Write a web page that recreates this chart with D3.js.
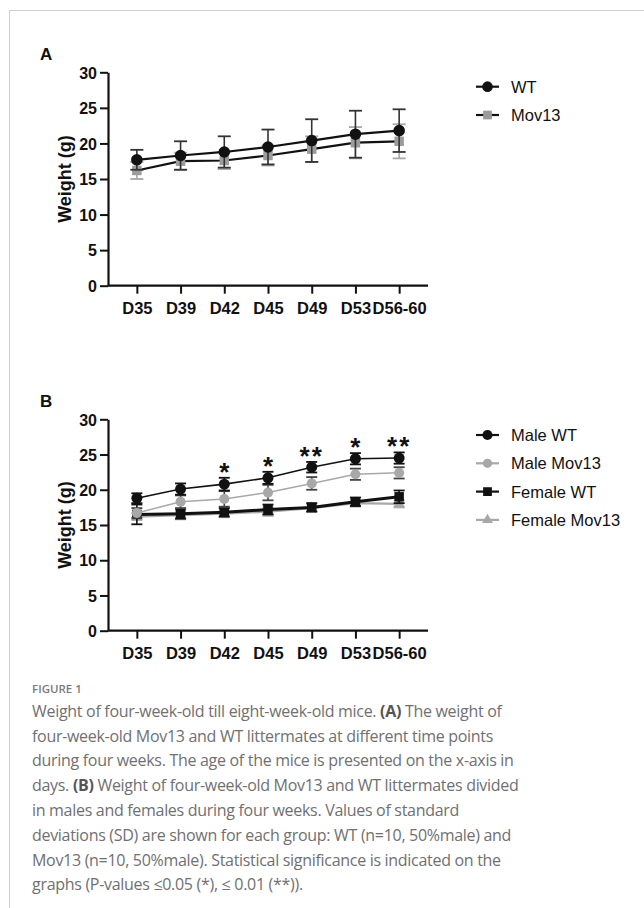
<!DOCTYPE html>
<html><head><meta charset="utf-8">
<script src="https://cdn.jsdelivr.net/npm/d3@7"></script>
<style>body{margin:0;background:#fff}svg{display:block}</style>
</head><body>
<script>
const days = ["D35","D39","D42","D45","D49","D53","D56-60"];
const yTicks = [0,5,10,15,20,25,30];
// Panel A
const wtMean = [17.7,18.3,18.8,19.5,20.4,21.3,21.8];
const wtSD   = [1.4,2.0,2.2,2.45,3.0,3.3,3.0];
const movMean = [16.2,17.5,17.6,18.3,19.2,20.1,20.3];
const movSD   = [1.2,1.2,1.2,1.4,1.8,2.2,2.4];
// Panel B
const maleWT = [18.8,20.1,20.8,21.7,23.2,24.4,24.5];
const maleWTsd = [0.7,0.8,0.9,0.85,0.75,0.8,0.8];
const maleMov = [16.7,18.3,18.7,19.6,20.9,22.2,22.4];
const maleMovSd = [0.7,0.9,1.1,1.1,0.9,0.8,0.8];
const femWT = [16.5,16.6,16.8,17.2,17.5,18.3,19.0];
const femWTsd = [1.4,0.7,0.6,0.7,0.6,0.6,0.9];
const femMov = [16.2,16.4,16.6,16.9,17.4,18.1,18.0];
const femMovSd = [0.5,0.6,0.5,0.6,0.5,0.5,0.5];
const signif = ["","","*","*","**","*","**"];
const captionLines = [
 [["Weight of four-week-old till eight-week-old mice. ",0],["(A)",1],[" The weight of",0]],
 [["four-week-old Mov13 and WT littermates at different time points",0]],
 [["during four weeks. The age of the mice is presented on the x-axis in",0]],
 [["days. ",0],["(B)",1],[" Weight of four-week-old Mov13 and WT littermates divided",0]],
 [["in males and females during four weeks. Values of standard",0]],
 [["deviations (SD) are shown for each group: WT (n=10, 50%male) and",0]],
 [["Mov13 (n=10, 50%male). Statistical significance is indicated on the",0]],
 [["graphs (P-values ≤0.05 (*), ≤ 0.01 (**)).",0]]
];

const W=644,H=908;
const svg=d3.select("body").append("svg").attr("width",W).attr("height",H);
svg.append("rect").attr("x",9.5).attr("y",10.5).attr("width",W).attr("height",H).attr("fill","none").attr("stroke","#d0d0d0").attr("stroke-width",1);

const FONT="'Liberation Sans', Arial, sans-serif";
const BLACK="#111", GREY="#a8a8a8";

function panel(label, top, bottom, series, legendItems, legendY, stars){
  const x=d3.scalePoint().domain(days).range([108,428]).padding(0.66);
  const y=d3.scaleLinear().domain([0,30]).range([bottom,top]);
  const g=svg.append("g");
  g.append("text").attr("x",40).attr("y",top-12).text(label)
   .attr("font-family",FONT).attr("font-weight","bold").attr("font-size",17).attr("fill",BLACK);
  const ya=g.append("g").attr("transform","translate(108,0)")
    .call(d3.axisLeft(y).tickValues(yTicks).tickSize(8).tickPadding(3).tickSizeOuter(0));
  const xa=g.append("g").attr("transform",`translate(0,${bottom})`)
    .call(d3.axisBottom(x).tickSize(8).tickPadding(9).tickSizeOuter(0));
  [ya,xa].forEach(a=>{
    a.select(".domain").attr("stroke",BLACK).attr("stroke-width",2.2);
    a.selectAll(".tick line").attr("stroke",BLACK).attr("stroke-width",2);
    a.selectAll("text").attr("font-family",FONT).attr("font-weight","bold").attr("font-size",16).attr("fill",BLACK);
  });
  ya.selectAll("text").attr("dy","0.36em");
  xa.select(".domain").attr("d","M108,0H428");
  xa.selectAll("text").attr("font-size",16.5);
  g.append("text").attr("transform",`translate(71,${(top+bottom)/2}) rotate(-90)`)
   .attr("text-anchor","middle").text("Weight (g)")
   .attr("font-family",FONT).attr("font-weight","bold").attr("font-size",18).attr("fill",BLACK);

  series.forEach(s=>{
    const pts=days.map((d,i)=>({d,m:s.mean[i],sd:s.sd[i]}));
    const eg=g.append("g");
    pts.forEach(p=>{
      const cx=x(p.d);
      eg.append("line").attr("x1",cx).attr("x2",cx).attr("y1",y(p.m-p.sd)).attr("y2",y(p.m+p.sd))
        .attr("stroke",s.ecolor).attr("stroke-width",1.6);
      [p.m-p.sd,p.m+p.sd].forEach(v=>eg.append("line").attr("x1",cx-s.cap).attr("x2",cx+s.cap)
        .attr("y1",y(v)).attr("y2",y(v)).attr("stroke",s.ecolor).attr("stroke-width",1.8));
    });
    g.append("path").datum(pts).attr("fill","none").attr("stroke",s.lcolor).attr("stroke-width",s.lw)
      .attr("d",d3.line().x(p=>x(p.d)).y(p=>y(p.m)));
    g.selectAll(null).data(pts).enter().append("path")
      .attr("transform",p=>`translate(${x(p.d)},${y(p.m)})`)
      .attr("d",d3.symbol().type(s.sym).size(s.size)).attr("fill",s.fill);
  });

  if(stars){
    const mw=series[series.length-1];
    g.selectAll(null).data(days.map((d,i)=>({d,s:stars[i],v:mw.mean[i]+mw.sd[i]}))).enter()
      .append("text").attr("x",p=>x(p.d)).attr("y",p=>y(p.v)+3)
      .attr("text-anchor","middle").attr("letter-spacing",p=>p.s.length>1?"2px":"0")
      .text(p=>p.s).attr("font-family",FONT).attr("font-weight","bold").attr("font-size",26).attr("fill",BLACK);
  }

  legendItems.forEach((s,i)=>{
    const ly=legendY+i*28.3;
    const lg=g.append("g");
    lg.append("line").attr("x1",476).attr("x2",499).attr("y1",ly).attr("y2",ly).attr("stroke",s.legLine).attr("stroke-width",2.2);
    lg.append("path").attr("transform",`translate(487.5,${ly})`).attr("d",d3.symbol().type(s.sym).size(s.size*0.85)).attr("fill",s.fill);
    lg.append("text").attr("x",511).attr("y",ly).attr("dy","0.36em").text(s.name)
      .attr("font-family",FONT).attr("font-size",16.5).attr("fill",BLACK);
  });
}

const sA=[
 {name:"Mov13",mean:movMean,sd:movSD,sym:d3.symbolSquare,size:90,fill:"#9c9c9c",lcolor:BLACK,lw:2.2,ecolor:GREY,cap:6.5,legLine:BLACK},
 {name:"WT",mean:wtMean,sd:wtSD,sym:d3.symbolCircle,size:105,fill:BLACK,lcolor:BLACK,lw:2.2,ecolor:"#333",cap:6.5,legLine:BLACK}
];
panel("A",72.3,285.7,sA,[sA[1],sA[0]],86.7,null);

const sB=[
 {name:"Female Mov13",mean:femMov,sd:femMovSd,sym:d3.symbolTriangle,size:60,fill:GREY,lcolor:GREY,lw:2.2,ecolor:GREY,cap:5.5,legLine:GREY},
 {name:"Female WT",mean:femWT,sd:femWTsd,sym:d3.symbolSquare,size:90,fill:BLACK,lcolor:BLACK,lw:3,ecolor:BLACK,cap:5.5,legLine:BLACK},
 {name:"Male Mov13",mean:maleMov,sd:maleMovSd,sym:d3.symbolCircle,size:80,fill:GREY,lcolor:GREY,lw:1.5,ecolor:"#444",cap:5.5,legLine:GREY},
 {name:"Male WT",mean:maleWT,sd:maleWTsd,sym:d3.symbolCircle,size:95,fill:BLACK,lcolor:BLACK,lw:1.6,ecolor:BLACK,cap:5.5,legLine:BLACK}
];
panel("B",419.3,630.7,sB,[sB[3],sB[2],sB[1],sB[0]],435,signif);

// caption
const CF="'Open Sans', 'Noto Sans', sans-serif";
svg.append("text").attr("x",32).attr("y",693).text("FIGURE 1")
  .attr("font-family",CF).attr("font-size",11.5).attr("fill","#7a7a7a").attr("font-weight",600);
captionLines.forEach((line,i)=>{
  const t=svg.append("text").attr("x",32).attr("y",716.7+i*24.8)
    .attr("font-family",CF).attr("font-size",16).attr("letter-spacing","-0.3px").attr("fill","#707070");
  line.forEach(([s,b])=>t.append("tspan").text(s).attr("font-weight",b?700:400).attr("fill",b?"#555":"#707070"));
});
</script>
</body></html>
